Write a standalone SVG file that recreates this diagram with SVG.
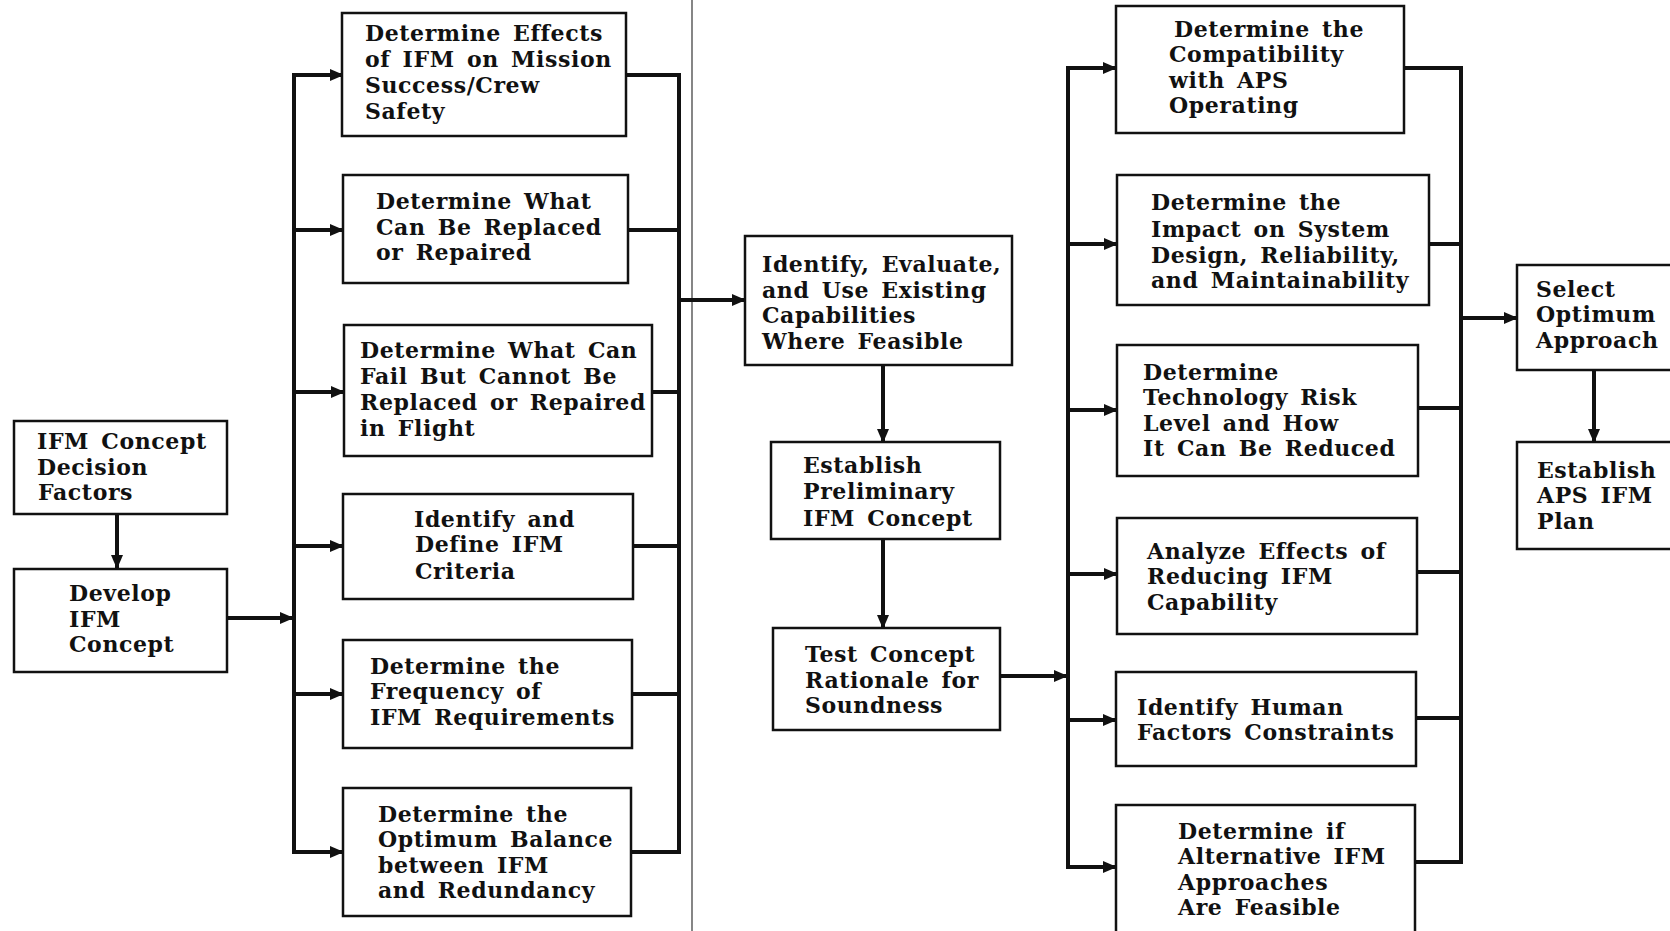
<svg xmlns="http://www.w3.org/2000/svg" width="1670" height="931" viewBox="0 0 1670 931">
<style>
.box{fill:#fff;stroke:#111;stroke-width:2.5}
.t{font-family:"DejaVu Serif","Liberation Serif",serif;font-weight:bold;font-size:22px;fill:#111;word-spacing:4px;letter-spacing:0.6px}
.c{fill:none;stroke:#111;stroke-width:4}
.a{fill:none;stroke:#111;stroke-width:4;marker-end:url(#ah)}
.div{stroke:#444;stroke-width:1.3}
</style>
<defs>
<marker id="ah" viewBox="0 0 14 12" refX="13" refY="6" markerWidth="14" markerHeight="12" markerUnits="userSpaceOnUse" orient="auto">
<path d="M0,0 L14,6 L0,12 Z" fill="#111"/>
</marker>
</defs>
<rect width="1670" height="931" fill="#fff"/>
<line class="div" x1="692" y1="0" x2="692" y2="931"/>
<g id="connectors">
<line class="a" x1="117" y1="514" x2="117" y2="568"/>
<line class="a" x1="227" y1="618" x2="293" y2="618"/>
<polyline class="c" points="322,75 294,75 294,852 322,852"/>
<line class="a" x1="294" y1="75" x2="343" y2="75"/>
<line class="a" x1="294" y1="230" x2="343" y2="230"/>
<line class="a" x1="294" y1="392" x2="344" y2="392"/>
<line class="a" x1="294" y1="546" x2="343" y2="546"/>
<line class="a" x1="294" y1="694" x2="343" y2="694"/>
<line class="a" x1="294" y1="852" x2="343" y2="852"/>
<polyline class="c" points="626,75 679,75 679,852 631,852"/>
<line class="c" x1="628" y1="230" x2="679" y2="230"/>
<line class="c" x1="652" y1="392" x2="679" y2="392"/>
<line class="c" x1="633" y1="546" x2="679" y2="546"/>
<line class="c" x1="632" y1="694" x2="679" y2="694"/>
<line class="a" x1="679" y1="300" x2="745" y2="300"/>
<line class="a" x1="883" y1="365" x2="883" y2="442"/>
<line class="a" x1="883" y1="539" x2="883" y2="628"/>
<line class="a" x1="1000" y1="676" x2="1067" y2="676"/>
<polyline class="c" points="1090,68 1068,68 1068,867 1090,867"/>
<line class="a" x1="1068" y1="68" x2="1116" y2="68"/>
<line class="a" x1="1068" y1="244" x2="1117" y2="244"/>
<line class="a" x1="1068" y1="410" x2="1117" y2="410"/>
<line class="a" x1="1068" y1="574" x2="1117" y2="574"/>
<line class="a" x1="1068" y1="720" x2="1116" y2="720"/>
<line class="a" x1="1068" y1="867" x2="1116" y2="867"/>
<polyline class="c" points="1404,68 1461,68 1461,862 1415,862"/>
<line class="c" x1="1429" y1="244" x2="1461" y2="244"/>
<line class="c" x1="1418" y1="408" x2="1461" y2="408"/>
<line class="c" x1="1417" y1="572" x2="1461" y2="572"/>
<line class="c" x1="1416" y1="718" x2="1461" y2="718"/>
<line class="a" x1="1461" y1="318" x2="1517" y2="318"/>
<line class="a" x1="1594" y1="370" x2="1594" y2="442"/>
</g>
<g id="n-decision-factors">
<rect class="box" x="14" y="421" width="213" height="93"/>
<text class="t" x="37" y="449">IFM Concept</text>
<text class="t" x="37" y="475">Decision</text>
<text class="t" x="38" y="500">Factors</text>
</g>
<g id="n-develop">
<rect class="box" x="14" y="569" width="213" height="103"/>
<text class="t" x="69" y="601">Develop</text>
<text class="t" x="69" y="627">IFM</text>
<text class="t" x="69" y="652">Concept</text>
</g>
<g id="n-effects">
<rect class="box" x="342" y="13" width="284" height="123"/>
<text class="t" x="365" y="41">Determine Effects</text>
<text class="t" x="365" y="67">of IFM on Mission</text>
<text class="t" x="365" y="93">Success/Crew</text>
<text class="t" x="365" y="119">Safety</text>
</g>
<g id="n-replaced">
<rect class="box" x="343" y="175" width="285" height="108"/>
<text class="t" x="376" y="209">Determine What</text>
<text class="t" x="376" y="235">Can Be Replaced</text>
<text class="t" x="376" y="260">or Repaired</text>
</g>
<g id="n-fail">
<rect class="box" x="344" y="325" width="308" height="131"/>
<text class="t" x="360" y="358">Determine What Can</text>
<text class="t" x="360" y="384">Fail But Cannot Be</text>
<text class="t" x="360" y="410">Replaced or Repaired</text>
<text class="t" x="360" y="436">in Flight</text>
</g>
<g id="n-criteria">
<rect class="box" x="343" y="494" width="290" height="105"/>
<text class="t" x="414" y="527">Identify and</text>
<text class="t" x="415" y="552">Define IFM</text>
<text class="t" x="415" y="579">Criteria</text>
</g>
<g id="n-frequency">
<rect class="box" x="343" y="640" width="289" height="108"/>
<text class="t" x="370" y="674">Determine the</text>
<text class="t" x="370" y="699">Frequency of</text>
<text class="t" x="370" y="725">IFM Requirements</text>
</g>
<g id="n-balance">
<rect class="box" x="343" y="788" width="288" height="128"/>
<text class="t" x="378" y="822">Determine the</text>
<text class="t" x="378" y="847">Optimum Balance</text>
<text class="t" x="378" y="873">between IFM</text>
<text class="t" x="378" y="898">and Redundancy</text>
</g>
<g id="n-identify-existing">
<rect class="box" x="745" y="236" width="267" height="129"/>
<text class="t" x="762" y="272">Identify, Evaluate,</text>
<text class="t" x="762" y="298">and Use Existing</text>
<text class="t" x="762" y="323">Capabilities</text>
<text class="t" x="762" y="349">Where Feasible</text>
</g>
<g id="n-preliminary">
<rect class="box" x="771" y="442" width="229" height="97"/>
<text class="t" x="803" y="473">Establish</text>
<text class="t" x="803" y="499">Preliminary</text>
<text class="t" x="803" y="526">IFM Concept</text>
</g>
<g id="n-test">
<rect class="box" x="773" y="628" width="227" height="102"/>
<text class="t" x="805" y="662">Test Concept</text>
<text class="t" x="805" y="688">Rationale for</text>
<text class="t" x="805" y="713">Soundness</text>
</g>
<g id="n-compat">
<rect class="box" x="1116" y="6" width="288" height="127"/>
<text class="t" x="1174" y="37">Determine the</text>
<text class="t" x="1169" y="62">Compatibility</text>
<text class="t" x="1169" y="88">with APS</text>
<text class="t" x="1169" y="113">Operating</text>
</g>
<g id="n-impact">
<rect class="box" x="1117" y="175" width="312" height="130"/>
<text class="t" x="1151" y="210">Determine the</text>
<text class="t" x="1151" y="237">Impact on System</text>
<text class="t" x="1151" y="263">Design, Reliability,</text>
<text class="t" x="1151" y="288">and Maintainability</text>
</g>
<g id="n-risk">
<rect class="box" x="1117" y="345" width="301" height="131"/>
<text class="t" x="1143" y="380">Determine</text>
<text class="t" x="1143" y="405">Technology Risk</text>
<text class="t" x="1143" y="431">Level and How</text>
<text class="t" x="1143" y="456">It Can Be Reduced</text>
</g>
<g id="n-reducing">
<rect class="box" x="1117" y="518" width="300" height="116"/>
<text class="t" x="1147" y="559">Analyze Effects of</text>
<text class="t" x="1147" y="584">Reducing IFM</text>
<text class="t" x="1147" y="610">Capability</text>
</g>
<g id="n-human">
<rect class="box" x="1116" y="672" width="300" height="94"/>
<text class="t" x="1137" y="715">Identify Human</text>
<text class="t" x="1137" y="740">Factors Constraints</text>
</g>
<g id="n-alternative">
<path class="box" d="M1116,940 L1116,805 L1415,805 L1415,940"/>
<text class="t" x="1178" y="839">Determine if</text>
<text class="t" x="1178" y="864">Alternative IFM</text>
<text class="t" x="1178" y="890">Approaches</text>
<text class="t" x="1178" y="915">Are Feasible</text>
</g>
<g id="n-select">
<path class="box" d="M1672,265 L1517,265 L1517,370 L1672,370"/>
<text class="t" x="1536" y="297">Select</text>
<text class="t" x="1536" y="322">Optimum</text>
<text class="t" x="1536" y="348">Approach</text>
</g>
<g id="n-plan">
<path class="box" d="M1672,442 L1517,442 L1517,549 L1672,549"/>
<text class="t" x="1537" y="478">Establish</text>
<text class="t" x="1537" y="503">APS IFM</text>
<text class="t" x="1537" y="529">Plan</text>
</g>
</svg>
